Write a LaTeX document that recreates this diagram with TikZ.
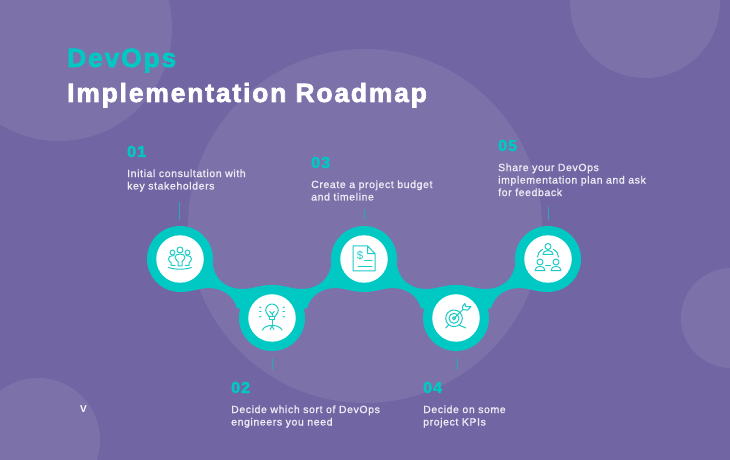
\documentclass[tikz,border=0pt]{standalone}
\usepackage{fontspec}
\setmainfont{Liberation Sans}
\newfontfamily\titlefont[LetterSpace=7,FakeBold=2.5]{Liberation Sans Bold}
\newfontfamily\numfont[LetterSpace=7,FakeBold=3]{Liberation Sans Bold}
\newfontfamily\bodyfont[LetterSpace=6,FakeBold=1.3]{Liberation Sans}
\definecolor{bgp}{HTML}{7166A3}
\definecolor{lightp}{HTML}{7D71AA}
\definecolor{teal1}{HTML}{00C9C4}
\definecolor{tickc}{HTML}{2AA8B6}
\definecolor{iconc}{HTML}{1FCBC7}
\definecolor{bodyc}{HTML}{EDEBF4}
\tikzset{
  disc/.style={circle,fill=teal1,minimum size=66bp,inner sep=0pt},
  hole/.style={circle,fill=white,minimum size=47.5bp,inner sep=0pt},
  tickline/.style={draw=tickc,line width=0.8bp,shorten >=6bp},
  ico/.style={draw=iconc,line width=1bp,line cap=round,line join=round,fill=none},
  titletxt/.style={anchor=base west,inner sep=0pt,font=\titlefont\fontsize{26.5}{26.5}\selectfont},
  numtxt/.style={anchor=base west,inner sep=0pt,text=teal1,font=\numfont\fontsize{16}{16}\selectfont},
  bodytxt/.style={anchor=base west,inner sep=0pt,text=bodyc,align=left,font=\bodyfont\fontsize{10.5}{12.5}\selectfont},
}
\newcommand{\bandseg}{%
  \fill[teal1] (212.5,264) .. controls (215,279) and (225,289) .. (243,289)
    .. controls (252,289) and (260,285) .. (272,285) -- (272,318)
    -- (237,308) .. controls (233,296) and (224,288.5) .. (209,288)
    .. controls (200,288) and (192,292) .. (180,292) -- (180,259) -- cycle;}
\begin{document}
\begin{tikzpicture}[x=1bp,y=-1bp]
\useasboundingbox (0,0) rectangle (730,460);
\begin{scope}
\clip (0,0) rectangle (730,460);
\fill[bgp] (0,0) rectangle (730,460);
\fill[lightp] (59,28) circle[radius=113];
\fill[lightp] (645,3) circle[radius=75];
\fill[lightp] (731,318) circle[radius=50];
\fill[lightp] (38,440) circle[radius=62];
\fill[lightp] (365,226) circle[radius=177];
\end{scope}
% band
\bandseg
\begin{scope}[xshift=544bp,xscale=-1]\bandseg\end{scope}
\begin{scope}[xshift=184bp]\bandseg\end{scope}
\begin{scope}[xshift=728bp,xscale=-1]\bandseg\end{scope}
% discs
\node[disc] (c1) at (180,259) {};
\node[disc] (c2) at (272,318) {};
\node[disc] (c3) at (364,259) {};
\node[disc] (c4) at (456,318) {};
\node[disc] (c5) at (548,259) {};
\node[hole] (h1) at (c1) {};
\node[hole] (h2) at (c2) {};
\node[hole] (h3) at (c3) {};
\node[hole] (h4) at (c4) {};
\node[hole] (h5) at (c5) {};
% ticks
\coordinate (t1) at (179.5,202);
\coordinate (t2) at (272,370);
\coordinate (t3) at (364,209);
\coordinate (t4) at (457,370);
\coordinate (t5) at (548.5,207);
\draw[tickline] (t1) -- (t1 |- c1.north);
\draw[tickline,shorten <=7bp,shorten >=0pt] (t2 |- c2.south) -- (t2);
\draw[tickline] (t3) -- (t3 |- c3.north);
\draw[tickline,shorten <=7bp,shorten >=0pt] (t4 |- c4.south) -- (t4);
\draw[tickline] (t5) -- (t5 |- c5.north);
% title
\node[titletxt,text=teal1] (ttl1) at (67,67) {DevOps};
\node[titletxt,text=white] (ttl2) at (67,102) {Implementation Roadmap};
% labels
\node[numtxt] (n1) at (127,157) {01};
\node[bodytxt] (b1) at (127,189.5) {Initial consultation with\\key stakeholders};
\node[numtxt] (n3) at (311,168) {03};
\node[bodytxt] (b3) at (311,200.5) {Create a project budget\\and timeline};
\node[numtxt] (n5) at (498,151) {05};
\node[bodytxt] (b5) at (498,196) {Share your DevOps\\implementation plan and ask\\for feedback};
\node[numtxt] (n2) at (231,393) {02};
\node[bodytxt] (b2) at (231,425.5) {Decide which sort of DevOps\\engineers you need};
\node[numtxt] (n4) at (423,393) {04};
\node[bodytxt] (b4) at (423,425.5) {Decide on some\\project KPIs};
\node[anchor=base,inner sep=0pt,text=white,font=\bfseries\fontsize{10}{10}\selectfont] (logo) at (83.5,412) {V};
% icon 1: people
\begin{scope}[shift={(c1)}]
\draw[ico] (0,-9) circle[radius=3];
\draw[ico] (-7.5,-6.5) circle[radius=2.4];
\draw[ico] (7.5,-6.5) circle[radius=2.4];
\draw[ico] (-2,7) -- (-2,2.5) .. controls (-2,1.5) and (-5,1) .. (-5,-1.5) .. controls (-5,-4) and (-3,-5) .. (0,-5) .. controls (3,-5) and (5,-4) .. (5,-1.5) .. controls (5,1) and (2,1.5) .. (2,2.5) -- (2,7) -- cycle;
\draw[ico] (-5,6.5) -- (-9,6.5) -- (-9,3.5) .. controls (-10,3) and (-11.5,2) .. (-11.5,0) .. controls (-11.5,-2) and (-10,-3.3) .. (-6,-3.3);
\draw[ico] (5,6.5) -- (9,6.5) -- (9,3.5) .. controls (10,3) and (11.5,2) .. (11.5,0) .. controls (11.5,-2) and (10,-3.3) .. (6,-3.3);
\draw[ico] (-11.5,8.3) .. controls (-7,10.8) and (7,10.8) .. (11.5,8.3);
\end{scope}
% icon 2: bulb
\begin{scope}[shift={(c2)}]
\draw[ico] (-3,-1.5) .. controls (-3,-3.5) and (-6.3,-4) .. (-6.3,-7.8) .. controls (-6.3,-11.5) and (-3,-14) .. (0,-14) .. controls (3,-14) and (6.3,-11.5) .. (6.3,-7.8) .. controls (6.3,-4) and (3,-3.5) .. (3,-1.5) -- cycle;
\draw[ico] (-2.5,-1.5) -- (-2.5,1.5) -- (2.5,1.5) -- (2.5,-1.5);
\draw[ico] (-2.2,-6.5) -- (0,-4) -- (2.2,-6.5);
\draw[ico] (0,-4) -- (0,-1.5);
\draw[ico] (0,1.5) -- (0,7);
\draw[ico] (-9.5,12) .. controls (-8,8.5) and (-4,7.5) .. (0,7.5) .. controls (4,7.5) and (8,8.5) .. (10,12);
\draw[ico] (-2,11.5) -- (0,8) -- (2,11.5);
\draw[ico] (-12.5,-11) -- (-11,-10.4);
\draw[ico] (-12.5,-6) -- (-10.8,-6);
\draw[ico] (-12.5,-1) -- (-11,-1.8);
\draw[ico] (12.5,-11) -- (11,-10.4);
\draw[ico] (12.5,-6) -- (10.8,-6);
\draw[ico] (12.5,-1) -- (11,-1.8);
\end{scope}
% icon 3: document
\begin{scope}[shift={(c3)}]
\draw[ico] (3.7,-13) -- (-11,-13) -- (-11,12) -- (11,12) -- (11,-5.3) -- (3.7,-13) -- (3.7,-5.3) -- (11,-5.3);
\node[inner sep=0pt,text=iconc,font=\fontsize{11.5}{11.5}\selectfont] (dollar) at (-4,-3.6) {\$};
\draw[ico] (0.5,2) -- (8,2);
\draw[ico] (-6,7.7) -- (8,7.7);
\end{scope}
% icon 4: target
\begin{scope}[shift={(c4)}]
\draw[ico] (-2,0.3) circle[radius=8.3];
\draw[ico] (-2,0.3) circle[radius=5];
\draw[ico] (-2,0.3) circle[radius=1.6];
\draw[ico] (-7.5,7.2) -- (-10.3,10);
\draw[ico] (3.5,7.2) -- (9.7,10);
\draw[ico] (-2,0.3) -- (7,-8.5);
\draw[ico] (7,-8.5) -- (6.3,-11) -- (8.7,-14.5) -- (9.8,-11.5) -- (15,-11.3) -- (11.5,-7.8) -- (7,-8.5);
\end{scope}
% icon 5: team
\begin{scope}[shift={(c5)}]
\draw[ico] (0,-12.5) circle[radius=3];
\draw[ico] (-8,3) circle[radius=3];
\draw[ico] (8,3) circle[radius=3];
\draw[ico] (-5,-4.7) -- (5,-4.7) .. controls (5,-7) and (3,-8.5) .. (0,-8.5) .. controls (-3,-8.5) and (-5,-7) .. (-5,-4.7);
\draw[ico] (-13,11.7) -- (-3,11.7) .. controls (-3,9) and (-5,7.3) .. (-8,7.3) .. controls (-11,7.3) and (-13,9) .. (-13,11.7);
\draw[ico] (3,11.7) -- (13,11.7) .. controls (13,9) and (11,7.3) .. (8,7.3) .. controls (5,7.3) and (3,9) .. (3,11.7);
\draw[ico] (-5.5,-9.5) .. controls (-9,-7.5) and (-10.5,-5) .. (-10.5,-1.8);
\draw[ico] (5.5,-9.5) .. controls (9,-7.5) and (10.5,-5) .. (10.5,-1.8);
\draw[ico] (-2.5,7) -- (2.5,7);
\end{scope}
\end{tikzpicture}
\end{document}
